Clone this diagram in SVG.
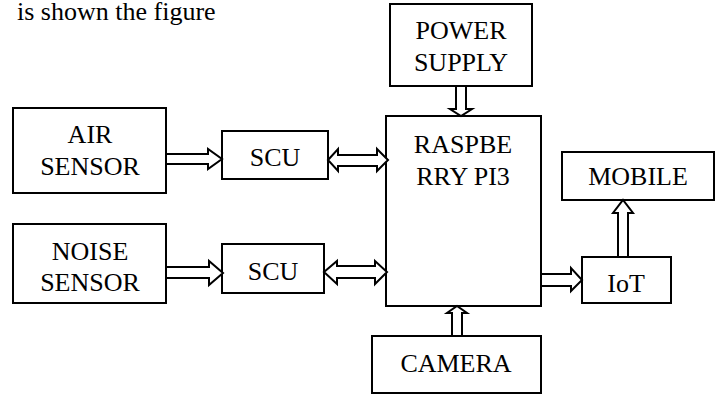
<svg xmlns="http://www.w3.org/2000/svg" width="723" height="394" viewBox="0 0 723 394">
<style>
.box{fill:#fff;stroke:#000;stroke-width:2}
.arr{fill:#fff;stroke:#000;stroke-width:2;stroke-linejoin:miter}
text{font-family:"Liberation Serif","Times New Roman",serif;font-size:26px;fill:#000}
.c{text-anchor:middle}
</style>
<rect width="723" height="394" fill="#fff"/>
<text x="17" y="20">is shown the figure</text>
<g id="air-sensor"><rect class="box" x="13" y="108" width="153" height="85"/><text class="c" x="90" y="143">AIR</text><text class="c" x="90" y="175">SENSOR</text></g>
<g id="scu1"><rect class="box" x="222" y="131" width="106" height="48"/><text class="c" x="275" y="166">SCU</text></g>
<g id="noise-sensor"><rect class="box" x="13" y="224" width="153" height="79"/><text class="c" x="90" y="260">NOISE</text><text class="c" x="90" y="291">SENSOR</text></g>
<g id="scu2"><rect class="box" x="222" y="244" width="102" height="49"/><text class="c" x="273" y="280">SCU</text></g>
<g id="power-supply"><rect class="box" x="390" y="4" width="142" height="82"/><text class="c" x="461" y="39">POWER</text><text class="c" x="461" y="71">SUPPLY</text></g>
<g id="raspberry"><rect class="box" x="386" y="116" width="155" height="190"/><text class="c" x="463" y="153">RASPBE</text><text class="c" x="463" y="185">RRY PI3</text></g>
<g id="mobile"><rect class="box" x="562" y="152" width="152" height="48"/><text class="c" x="638" y="185">MOBILE</text></g>
<g id="iot"><rect class="box" x="582" y="257" width="89" height="46"/><text class="c" x="626" y="292">IoT</text></g>
<g id="camera"><rect class="box" x="372" y="336" width="169" height="57"/><text class="c" x="456" y="372">CAMERA</text></g>
<g id="connectors">
<polygon class="arr" points="166,154 208,154 208,149 222,159 208,169 208,164 166,164"/>
<polygon class="arr" points="328,160 338,149 338,155 377,155 377,149 388,160 377,171 377,166 338,166 338,171"/>
<polygon class="arr" points="166,267 209,267 209,261 223,273 209,285 209,278 166,278"/>
<polygon class="arr" points="324,272 337,261 337,266 375,266 375,261 387,272 375,284 375,278 337,278 337,284"/>
<polygon class="arr" points="456,86 466,86 466,109 472,109 461,116 450,109 456,109"/>
<polygon class="arr" points="452,336 462,336 462,313 467,313 457,306 447,313 452,313"/>
<polygon class="arr" points="541,274 571,274 571,268 582,280 571,291 571,286 541,286"/>
<polygon class="arr" points="618,257 628,257 628,213 633,213 623,200 613,213 618,213"/>
</g>
</svg>
